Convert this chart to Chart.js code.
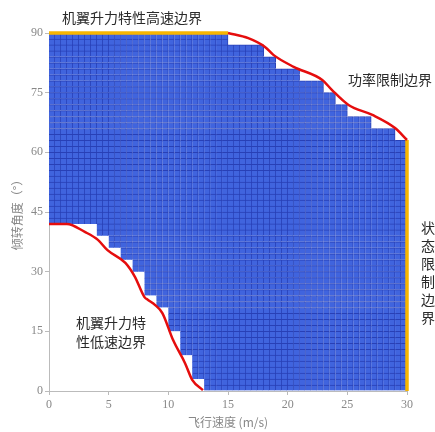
<!DOCTYPE html>
<html>
<head>
<meta charset="utf-8">
<script src="https://cdn.jsdelivr.net/npm/chart.js@4/dist/chart.umd.min.js"></script>
<style>
html,body{margin:0;padding:0;background:#fff}
#wrap{position:relative;width:435px;height:432px}
</style>
</head>
<body>
<div id="wrap"><canvas id="c" width="435" height="432"></canvas></div>
<script>
// Feasible tilt-angle range for each 1 m/s speed column [k, k+1)
const speedCols = [0,1,2,3,4,5,6,7,8,9,10,11,12,13,14,15,16,17,18,19,20,21,22,23,24,25,26,27,28,29];
const tiltUpper = [90,90,90,90,90,90,90,90,90,90,90,90,90,90,90,87,87,87,84,81,81,78,78,75,72,69,69,66,66,63];
const tiltLower = [42,42,42,42,39,36,33,30,24,21,15,9,3,0,0,0,0,0,0,0,0,0,0,0,0,0,0,0,0,0];

// Analysis grid resolution
const cellSpeed = 0.5;   // m/s
const cellTilt = 1.5;    // degrees

// Boundary curves
const liftHighSpeedX = [0, 15];
const liftHighSpeedY = [90, 90];
const powerLimitX = [15, 16.7, 18.1, 18.8, 20.5, 22.9, 23.7, 25.1, 27.1, 29.0, 30];
const powerLimitY = [90, 88.7, 86.5, 84.5, 81.5, 78.2, 75.7, 71.9, 69.4, 66.1, 63.1];
const stateLimitX = [30, 30];
const stateLimitY = [0, 63.1];
const liftLowSpeedX = [0, 1.5, 3.0, 4.1, 4.9, 6.4, 7.2, 8.0, 8.3, 8.9, 9.5, 10.4, 11.4, 12.0, 12.9];
const liftLowSpeedY = [42, 42, 40, 38, 35.4, 32.2, 28.7, 23.6, 22.9, 21.6, 19.6, 12.8, 7.0, 2.8, 0.2];

// Axis ticks
const speedTicks = [0, 5, 10, 15, 20, 25, 30];
const tiltTicks = [0, 15, 30, 45, 60, 75, 90];

const toPoints = (xs, ys) => xs.map((x, i) => ({x, y: ys[i]}));

// One floating-bar dataset per tilt band; each bar is a grid cell inside the feasible range
const cellDatasets = [];
const rows = Math.round(90 / cellTilt);
const cols = Math.round(30 / cellSpeed);
for (let r = 0; r < rows; r++) {
  const y0 = r * cellTilt, y1 = y0 + cellTilt;
  const data = [];
  for (let c = 0; c < cols; c++) {
    const x0 = c * cellSpeed;
    const k = speedCols.indexOf(Math.floor(x0));
    if (y0 >= tiltLower[k] - 1e-9 && y1 <= tiltUpper[k] + 1e-9) {
      data.push({x: x0 + cellSpeed / 2, y: [y0, y1]});
    }
  }
  cellDatasets.push({
    type: 'bar',
    data,
    backgroundColor: 'rgb(64,100,222)',
    borderColor: 'rgb(40,64,182)',
    borderWidth: {top: 1, right: 1, bottom: 0, left: 0},
    borderSkipped: false,
    barPercentage: 1,
    categoryPercentage: 1,
    grouped: false,
    order: 5
  });
}

const lineStyle = (pts, color, width) => ({
  type: 'line',
  data: pts,
  borderColor: color,
  borderWidth: width,
  pointRadius: 0,
  fill: false,
  cubicInterpolationMode: 'monotone',
  clip: 6,
  order: 0
});

const datasets = [
  ...cellDatasets,
  lineStyle(toPoints(powerLimitX, powerLimitY), '#e50d0d', 2.5),
  lineStyle(toPoints(liftLowSpeedX, liftLowSpeedY), '#e50d0d', 2.5),
  lineStyle(toPoints(liftHighSpeedX, liftHighSpeedY), '#f7b500', 3.5),
  lineStyle(toPoints(stateLimitX, stateLimitY), '#f7b500', 3.5)
];

// Boundary captions
const captions = {
  id: 'captions',
  afterDraw(chart) {
    const ctx = chart.ctx;
    ctx.save();
    ctx.fillStyle = '#2a2a2a';
    ctx.font = '14px "Noto Sans CJK SC"';
    ctx.textBaseline = 'middle';
    ctx.textAlign = 'left';
    ctx.fillText('机翼升力特性高速边界', 62, 18);
    ctx.fillText('功率限制边界', 348, 80);
    ctx.fillText('机翼升力特', 76, 323);
    ctx.fillText('性低速边界', 76, 342);
    const vertical = '状态限制边界';
    for (let i = 0; i < vertical.length; i++) {
      ctx.fillText(vertical[i], 421, 228 + i * 18);
    }
    ctx.restore();
  }
};

new Chart(document.getElementById('c'), {
  type: 'bar',
  data: {datasets},
  plugins: [captions],
  options: {
    responsive: false,
    animation: false,
    events: [],
    layout: {padding: {top: 33, right: 28, left: 0, bottom: 0}},
    plugins: {legend: {display: false}, tooltip: {enabled: false}},
    scales: {
      x: {
        type: 'linear',
        min: 0, max: 30,
        offset: false,
        afterBuildTicks(scale) { scale.ticks = speedTicks.map(v => ({value: v})); },
        afterFit(scale) { scale.height = 41; },
        grid: {display: true, drawOnChartArea: false, offset: false, tickLength: 4, color: '#bbb'},
        border: {display: true, color: '#bbb', width: 1},
        ticks: {color: '#888', padding: 3, font: {family: '"Liberation Serif"', size: 12}},
        title: {display: true, text: '飞行速度 (m/s)', color: '#888', padding: {top: 0, bottom: 2}, font: {family: '"Noto Sans CJK SC"', size: 12}}
      },
      y: {
        type: 'linear',
        min: 0, max: 90,
        afterBuildTicks(scale) { scale.ticks = tiltTicks.map(v => ({value: v})); },
        afterFit(scale) { scale.width = 49; },
        grid: {display: true, drawOnChartArea: false, tickLength: 4, color: '#bbb'},
        border: {display: true, color: '#bbb', width: 1},
        ticks: {color: '#888', padding: 2, font: {family: '"Liberation Serif"', size: 12}},
        title: {display: true, text: '倾转角度（°）', color: '#888', padding: {top: 10, bottom: 0}, font: {family: '"Noto Sans CJK SC"', size: 12}}
      }
    }
  }
});
</script>
</body>
</html>
